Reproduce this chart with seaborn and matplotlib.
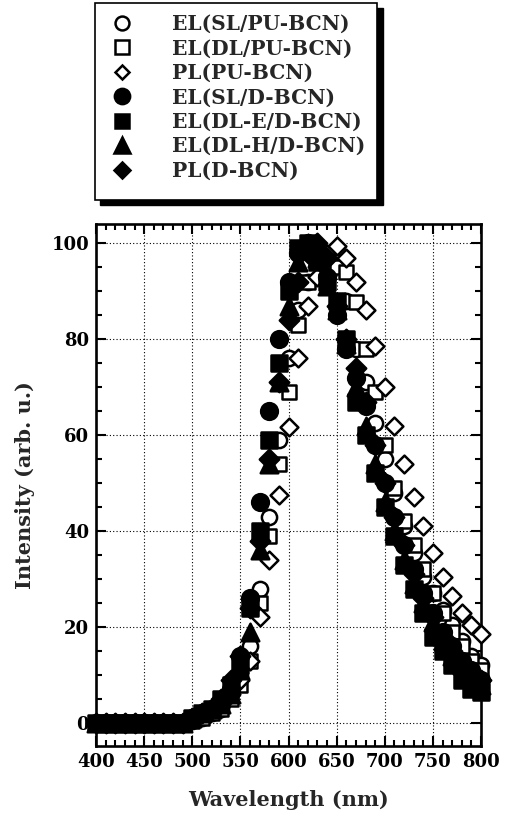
import matplotlib
matplotlib.use("Agg")
import matplotlib.pyplot as plt
from matplotlib.patches import Rectangle
from matplotlib.ticker import MultipleLocator
import seaborn as sns
import pandas as pd

# ---------------- data ----------------
wavelength = list(range(400, 801, 10))
base = [0] * 10  # 400-490 nm

el_sl_pu = base + [0.5, 1, 2, 3, 6, 10, 16, 28, 43, 59, 76, 86, 92, 96, 98, 96, 88, 78, 71, 62.5,
                   55, 48, 41, 35.5, 30.5, 27, 23.5, 20.5, 17, 14, 12]
el_dl_pu = base + [0.5, 1, 2, 3, 5, 8, 13, 25, 39, 54, 69, 83, 92, 97, 98, 95, 94, 87.7, 78, 69,
                   58, 49, 42, 37, 32, 27, 23, 19, 16, 13, 11]
pl_pu = base + [1, 2, 3, 4, 6, 9, 13, 22, 34, 47.5, 61.7, 76, 87, 93, 97, 99.5, 97, 92, 86, 78.5,
                70, 62, 54, 47, 41, 35.5, 30.5, 26.5, 23, 20.5, 18.5]
el_sl_d = base + [1, 2, 3, 4, 7, 14, 26, 46, 65, 80, 92, 98, 100, 99, 93, 85, 78, 72, 66, 58,
                  50, 43, 37, 32, 27, 23, 19, 16, 13, 11, 9]
el_dle_d = base + [1, 2, 3, 5, 8, 12, 24, 40, 59, 75, 90, 99, 100, 96, 92, 88, 80, 67, 60, 52,
                   45, 39, 33, 28, 23, 18, 15, 12, 9, 7, 6.5]
el_dlh_d = base + [1, 2, 3, 4, 6, 11, 19, 36, 54, 71, 87, 96, 100, 97, 91, 86, 79, 70, 62, 54,
                   46, 40, 34, 29, 25, 21, 17, 14, 12, 10, 8]
pl_d = base + [1, 2, 3, 5, 9, 14, 24, 38, 55, 71, 84, 92, 98, 100, 97, 87, 80, 74, 67, 58,
               50, 43, 37, 31, 26, 22, 18, 15, 12, 10, 9]

labels = ["EL(SL/PU-BCN)", "EL(DL/PU-BCN)", "PL(PU-BCN)", "EL(SL/D-BCN)",
          "EL(DL-E/D-BCN)", "EL(DL-H/D-BCN)", "PL(D-BCN)"]
series = [el_sl_pu, el_dl_pu, pl_pu, el_sl_d, el_dle_d, el_dlh_d, pl_d]
x_ticks = [400, 450, 500, 550, 600, 650, 700, 750, 800]
y_ticks = [0, 20, 40, 60, 80, 100]

# ---------------- styles ----------------
styles = [
    dict(marker="o", s=120, facecolor="white", leg=10.0),
    dict(marker="s", s=115, facecolor="white", leg=9.5),
    dict(marker="D", s=82, facecolor="white", leg=7.5),
    dict(marker="o", s=145, facecolor="black", leg=11.0),
    dict(marker="s", s=145, facecolor="black", leg=10.5),
    dict(marker="^", s=160, facecolor="black", leg=11.0),
    dict(marker="D", s=98, facecolor="black", leg=8.5),
]

sns.set_theme(style="white")
plt.rcParams["font.family"] = ["DejaVu Serif"]
plt.rcParams["font.weight"] = "bold"

fig = plt.figure(figsize=(5.13, 8.15), dpi=100)
W, H = 513, 815
ax = fig.add_axes([96 / W, 1 - 746 / H, (481 - 96) / W, (746 - 224) / H])

handles = []
for lab, vals, st in zip(labels, series, styles):
    df = pd.DataFrame({"wl": wavelength, "I": vals})
    sns.scatterplot(data=df, x="wl", y="I", ax=ax, marker=st["marker"], s=st["s"],
                    facecolor=st["facecolor"], edgecolor="black", linewidth=1.8,
                    clip_on=False, zorder=3, legend=False)
    handles.append(plt.Line2D([], [], linestyle="none", marker=st["marker"],
                              markersize=st["leg"],
                              markerfacecolor=st["facecolor"], markeredgecolor="black",
                              markeredgewidth=1.8, label=lab))

ax.set_xlim(400, 800)
ax.set_ylim(-4.8, 104)
ax.set_xticks(x_ticks)
ax.set_yticks(y_ticks)
ax.xaxis.set_minor_locator(MultipleLocator(10))
ax.yaxis.set_minor_locator(MultipleLocator(5))
ax.tick_params(which="both", direction="in", top=True, right=True, bottom=True, left=True,
               colors="black", labelsize=13, width=1.5)
ax.tick_params(which="major", length=7, pad=5)
ax.tick_params(which="minor", length=4)
for t in ax.get_xticklabels() + ax.get_yticklabels():
    t.set_fontweight("bold")
ax.grid(True, which="major", linestyle=(0, (1, 2)), color="black", linewidth=0.8)
ax.set_axisbelow(True)
for sp in ax.spines.values():
    sp.set_visible(True)
    sp.set_color("black")
    sp.set_linewidth(1.9)

ax.set_xlabel("Wavelength (nm)", fontsize=15, fontweight="bold", labelpad=14)
ax.set_ylabel("Intensity (arb. u.)", fontsize=15, fontweight="bold", labelpad=12)

# legend box with black drop shadow
fig.patches.append(Rectangle((100 / W, 1 - 205 / H), (383 - 100) / W, (205 - 8) / H,
                             transform=fig.transFigure, facecolor="black",
                             edgecolor="black", zorder=1))
fig.patches.append(Rectangle((95 / W, 1 - 200 / H), (377 - 95) / W, (200 - 3) / H,
                             transform=fig.transFigure, facecolor="white",
                             edgecolor="black", linewidth=1.2, zorder=2))
leg = fig.legend(handles=handles, loc="upper left", bbox_to_anchor=(102 / W, 1 - 14 / H),
                 frameon=False, fontsize=14.5, handlelength=2.0, handletextpad=1.5,
                 labelspacing=0.22, borderpad=0, borderaxespad=0)
leg.set_zorder(5)
for t in leg.get_texts():
    t.set_fontweight("bold")

fig.savefig("out.png", dpi=100)
